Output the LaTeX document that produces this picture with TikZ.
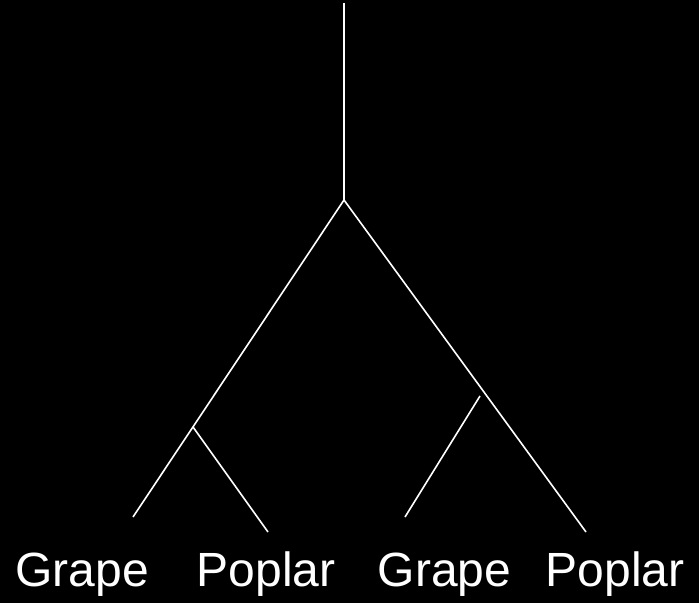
\documentclass[tikz,border=0pt]{standalone}
\usepackage{fontspec}
\setmainfont{Liberation Sans}
\begin{document}
\begin{tikzpicture}[x=1bp,y=-1bp,
  branch/.style={draw=white,line width=1.6bp},
  leaf/.style={text=white,anchor=base,inner sep=0pt,font=\fontsize{48bp}{52bp}\selectfont}]
\fill[black] (0,0) rectangle (699,603);
\useasboundingbox (0,0) rectangle (699,603);
\coordinate (top) at (344,3);
\coordinate (root) at (344,200);
\coordinate (l) at (193,427);
\coordinate (r) at (480,396);
\coordinate (g1) at (133,517);
\coordinate (p1) at (268,532);
\coordinate (g2) at (405,517);
\coordinate (p2) at (586,532);
\draw[branch] (top) -- (root);
\draw[branch] (root) -- (g1);
\draw[branch] (root) -- (p2);
\draw[branch] (l) -- (p1);
\draw[branch] (r) -- (g2);
\node[leaf] (tg1) at (82,586) {Grape};
\node[leaf] (tp1) at (266,586) {Poplar};
\node[leaf] (tg2) at (444.5,586) {Grape};
\node[leaf] (tp2) at (615,586) {Poplar};
\end{tikzpicture}
\end{document}
